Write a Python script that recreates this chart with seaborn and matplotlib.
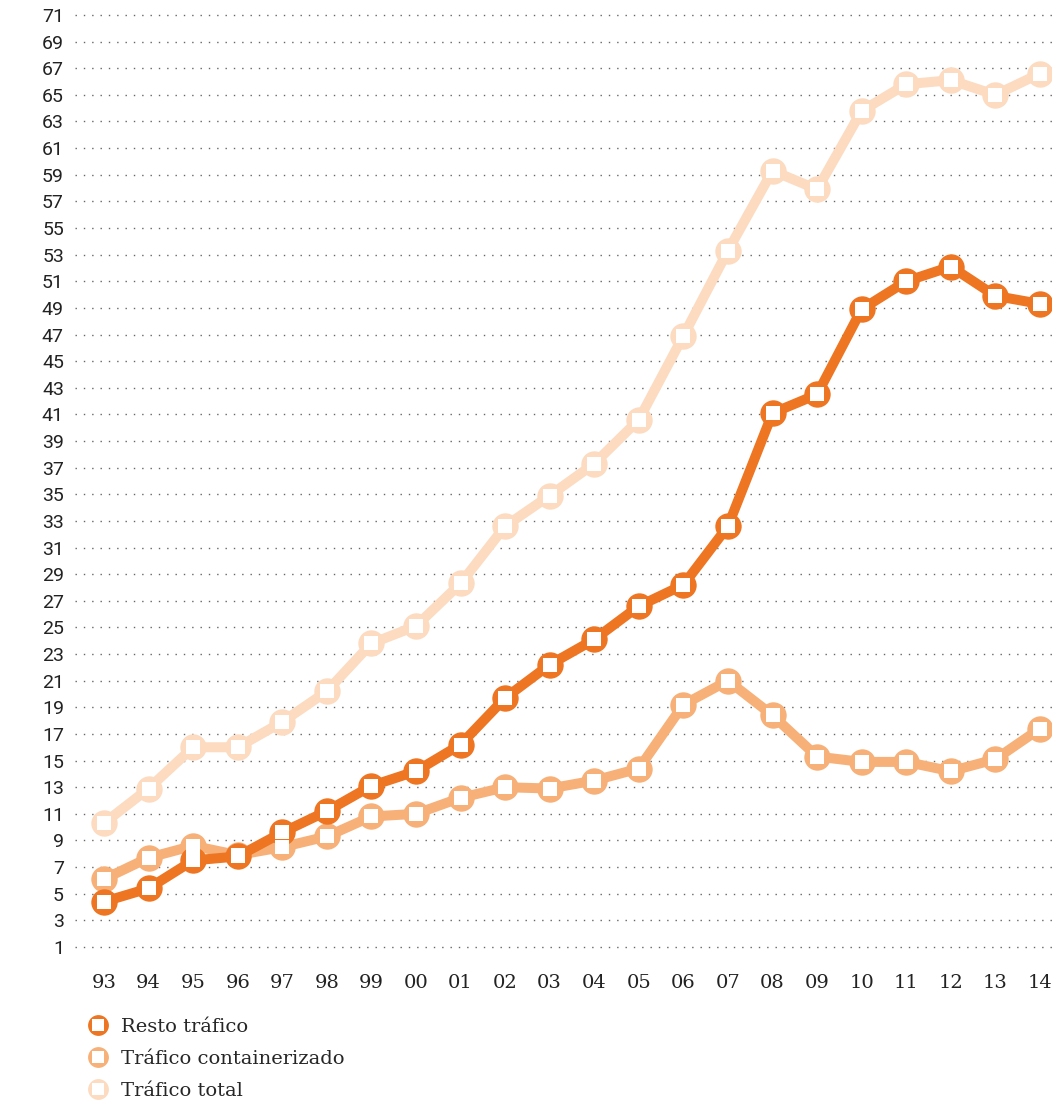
import pandas as pd
import matplotlib.pyplot as plt
import seaborn as sns
from matplotlib.lines import Line2D
from matplotlib.legend_handler import HandlerTuple

years = ["93", "94", "95", "96", "97", "98", "99", "00", "01", "02", "03",
         "04", "05", "06", "07", "08", "09", "10", "11", "12", "13", "14"]

resto = [4.4, 5.4, 7.5, 7.8, 9.6, 11.2, 13.1, 14.2, 16.2, 19.7, 22.2,
         24.1, 26.6, 28.2, 32.6, 41.1, 42.5, 48.9, 51.0, 52.1, 49.9, 49.3]
container = [6.1, 7.7, 8.6, 7.9, 8.5, 9.3, 10.8, 11.0, 12.2, 13.0, 12.9,
             13.5, 14.4, 19.2, 21.0, 18.4, 15.3, 14.9, 14.9, 14.2, 15.1, 17.4]
total = [10.3, 12.9, 16.0, 16.0, 17.9, 20.2, 23.8, 25.1, 28.3, 32.6, 34.9,
         37.3, 40.6, 46.9, 53.3, 59.3, 57.9, 63.8, 65.8, 66.1, 65.0, 66.6]

series_names = ["Resto tráfico", "Tráfico containerizado", "Tráfico total"]
colors = ["#EE7521", "#F7B077", "#FCDBC0"]
y_ticks = list(range(1, 72, 2))

# long-form table
rows = []
for name, vals in zip(series_names, [resto, container, total]):
    for i, v in enumerate(vals):
        rows.append({"idx": i, "year": years[i], "value": v, "serie": name})
df = pd.DataFrame(rows)

sns.set_theme(style="white")
plt.rcParams['font.family'] = ['Roboto', 'DejaVu Sans']

fig = plt.figure(figsize=(10.52, 11.02), dpi=100)
ax = fig.add_axes([0.0713, 0.1286, 0.9287, 0.8699])

# draw lightest first so the dark line ends up on top
for name, col in reversed(list(zip(series_names, colors))):
    d = df[df["serie"] == name]
    sns.lineplot(data=d, x="idx", y="value", ax=ax, color=col, linewidth=7.2,
                 marker="o", markersize=19, markeredgewidth=0,
                 solid_joinstyle="round", solid_capstyle="round")
    sns.scatterplot(data=d, x="idx", y="value", ax=ax, color="white",
                    marker="s", s=95, linewidth=0, zorder=5)

ax.set_xlim(-0.65, 21.27)
ax.set_ylim(0, 72)
ax.set_yticks(y_ticks)
ax.set_yticklabels([str(t) for t in y_ticks], fontsize=14, color="#222222")
ax.set_xticks(range(len(years)))
ax.set_xticklabels(years, fontsize=14, color="#222222", family=['DejaVu Serif'])
ax.tick_params(axis="x", length=0, pad=10)
ax.tick_params(axis="y", length=0, pad=8)
ax.set_xlabel("")
ax.set_ylabel("")
for s in ax.spines.values():
    s.set_visible(False)

ax.yaxis.grid(True, color="#666666", linestyle=(0, (1, 5)), linewidth=1)
ax.xaxis.grid(False)
ax.set_axisbelow(True)

handles = []
for col in colors:
    c = Line2D([], [], marker="o", color=col, markersize=15, linestyle="none", markeredgewidth=0)
    sq = Line2D([], [], marker="s", color="white", markersize=8, linestyle="none", markeredgewidth=0)
    handles.append((c, sq))
fig.legend(handles, series_names, handler_map={tuple: HandlerTuple(ndivide=1)},
           loc="lower left", bbox_to_anchor=(0.072, -0.008), frameon=False,
           prop={"family": "DejaVu Serif", "size": 14}, labelspacing=0.72,
           handlelength=1.2, handletextpad=0.6, borderaxespad=0.15)

fig.savefig("out.png", dpi=100)
